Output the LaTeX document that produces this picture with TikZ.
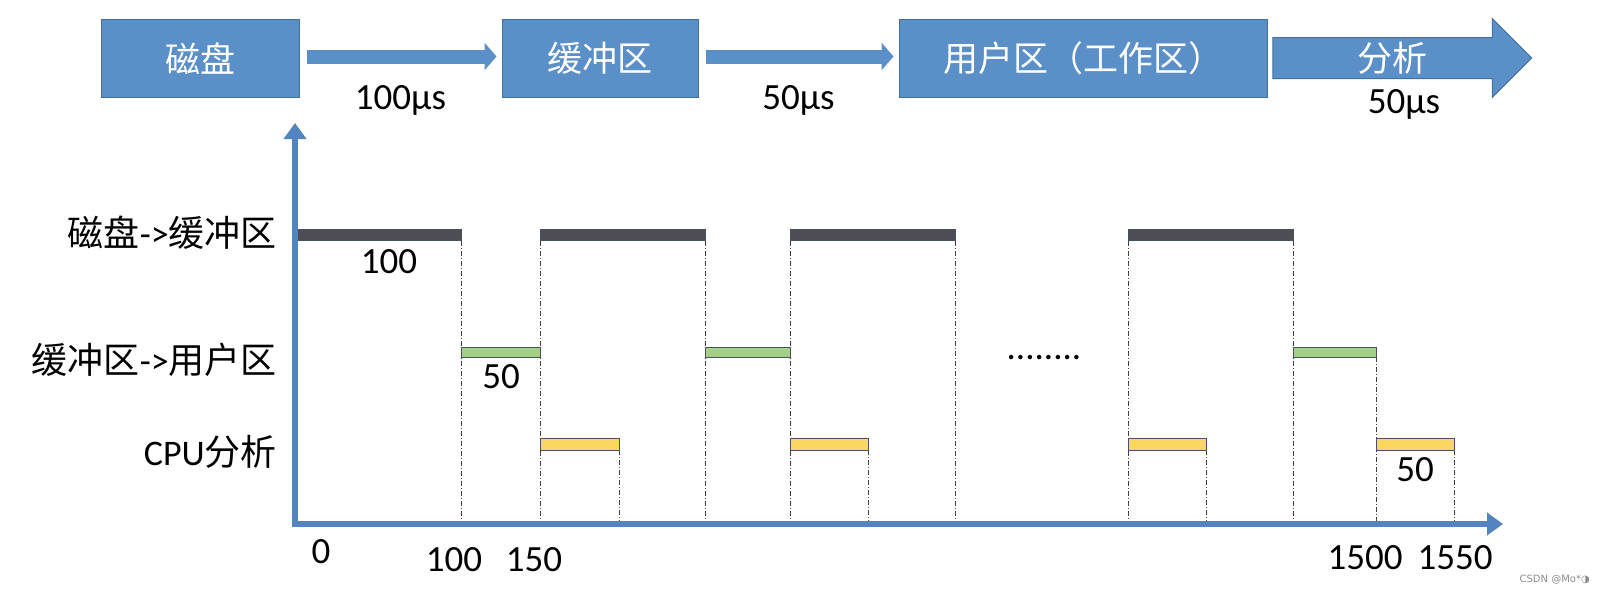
\documentclass[tikz,border=0pt]{standalone}
\usepackage{fontspec}
\setmainfont{Carlito}
\newfontfamily\cjk{Noto Sans CJK SC}
\newfontfamily\markfont{DejaVu Sans}
\usetikzlibrary{arrows.meta,shapes.arrows,positioning}
\definecolor{boxblue}{RGB}{91,143,200}
\definecolor{boxline}{RGB}{65,113,156}
\definecolor{axisblue}{RGB}{84,132,192}
\definecolor{diskgray}{RGB}{78,76,84}
\definecolor{bufgreen}{RGB}{164,208,133}
\definecolor{cpuyellow}{RGB}{250,214,98}
\definecolor{barline}{RGB}{72,82,92}
\newcommand{\zh}[1]{{\cjk #1}}

\begin{document}
\begin{tikzpicture}[x=1pt,y=-1pt,
  stage/.style={draw=boxline,fill=boxblue,line width=1pt,minimum height=78pt,inner sep=0pt,
    text=white,font=\cjk\fontsize{35}{40}\selectfont},
  flow/.style={boxblue,line width=14pt,-{Triangle[length=12pt,width=27pt]},
    shorten <=7pt,shorten >=5pt},
  numlabel/.style={inner sep=0pt,text=black,font=\fontsize{37}{44}\selectfont},
  rowlabel/.style={inner sep=0pt,anchor=east,font=\fontsize{36}{42}\selectfont},
  axis/.style={axisblue,line width=6.5pt,
    {Triangle[length=16pt,width=22pt]}-{Triangle[length=16pt,width=22pt]}},
  guide/.style={black!75,line width=0.8pt,dash pattern=on 5pt off 2pt on 1pt off 2pt},
  diskbar/.style={fill=diskgray,draw=barline,line width=0.8pt},
  bufbar/.style={fill=bufgreen,draw=barline,line width=0.8pt},
  cpubar/.style={fill=cpuyellow,draw=barline,line width=0.8pt}]
\useasboundingbox (0,0) rectangle (1607,590);

% pipeline
\node[stage,minimum width=198pt] (disk) at (200,58.5) {磁盘};
\node[stage,minimum width=196pt,right=202pt of disk] (buffer) {缓冲区};
\node[stage,minimum width=368pt,right=200pt of buffer] (user) {用户区（工作区）};
\node[single arrow,fill=boxblue,draw=boxline,line width=1pt,
  single arrow head extend=19pt,single arrow head indent=0pt,
  minimum height=259pt,inner sep=0pt,text height=33pt,text depth=7pt,
  text=white,font=\cjk\fontsize{35}{40}\selectfont] (analysis) at (1392,58) {分析};
\draw[flow,transform canvas={yshift=2pt}] (disk) -- node[numlabel,below=22pt] {100μs} (buffer);
\draw[flow,transform canvas={yshift=2pt}] (buffer) -- node[numlabel,below=22pt] {50μs} (user);
\node[numlabel,anchor=base] (tana) at (1404,113) {50μs};

% time chart
\node[rowlabel] (rdisk) at (277,233) {\zh{磁盘}->\zh{缓冲区}};
\node[rowlabel] (rbuf) at (277,360) {\zh{缓冲区}->\zh{用户区}};
\node[rowlabel] (rcpu) at (277,452) {CPU\zh{分析}};

\foreach \x/\y in {461/241,540/241,619/450,705/241,790/241,868/450,
                   955/241,1128/241,1206/450,1293/241,1376/357,1454/450}
  \draw[guide] (\x,\y) -- (\x,524);

\foreach \a/\b in {297/461,540/705,790/955,1128/1293}
  \draw[diskbar] (\a,229.5) rectangle (\b,240.5);
\foreach \a/\b in {461/540,705/790,1293/1376}
  \draw[bufbar] (\a,347.5) rectangle (\b,357.5);
\foreach \a/\b in {540/619,790/868,1128/1206,1376/1454}
  \draw[cpubar] (\a,438) rectangle (\b,450);

\draw[axis] (295,123) -- (295,524) -- (1503,524);

\node[numlabel,anchor=base] (d100) at (389,273) {100};
\node[numlabel,anchor=base] (b50) at (501,388) {50};
\node[numlabel,anchor=base] (c50) at (1415,481) {50};
\node[numlabel,anchor=base] (gap) at (1044,359) {........};

\node[numlabel,anchor=base] (t0) at (321,563) {0};
\node[numlabel,anchor=base] (t100) at (454,571) {100};
\node[numlabel,anchor=base] (t150) at (534,571) {150};
\node[numlabel,anchor=base] (t1500) at (1365,569) {1500};
\node[numlabel,anchor=base] (t1550) at (1455,569) {1550};

\node[anchor=east,inner sep=0pt,text=black!45,font=\markfont\fontsize{10}{12}\selectfont]
  (mark) at (1590,580) {CSDN @Mo*◑};
\end{tikzpicture}
\end{document}
